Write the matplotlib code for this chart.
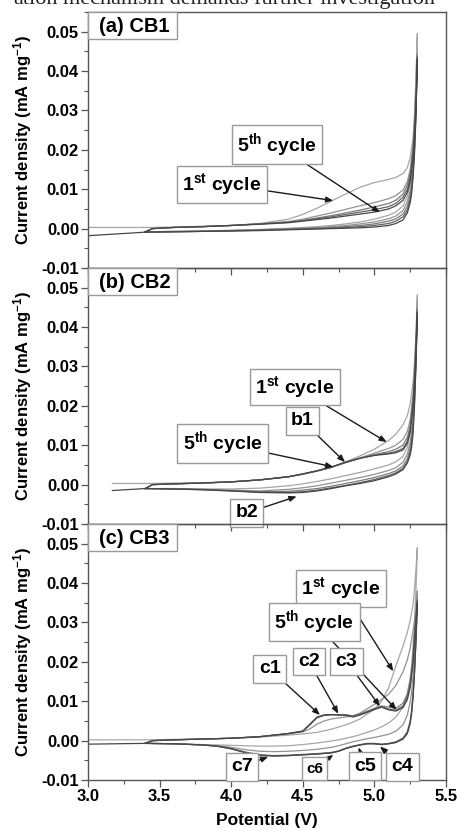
import matplotlib
matplotlib.use('Agg')
import matplotlib.pyplot as plt
from matplotlib.ticker import MultipleLocator, FormatStrFormatter
from matplotlib.patches import Rectangle

plt.rcParams['font.family'] = ['Liberation Sans', 'DejaVu Sans']
plt.rcParams['font.weight'] = 'bold'
plt.rcParams['mathtext.fontset'] = 'custom'
plt.rcParams['mathtext.rm'] = 'Liberation Sans:bold'
plt.rcParams['mathtext.bf'] = 'Liberation Sans:bold'
plt.rcParams['mathtext.it'] = 'Liberation Sans:bold'
plt.rcParams['mathtext.default'] = 'bf'

# ---------------- data (potential in V, current density in mA mg^-1) -------------
anodic_v = [3.40, 3.45, 3.60, 3.80, 4.00, 4.20, 4.40, 4.50, 4.60, 4.70, 4.80,
            4.90, 5.00, 5.10, 5.15, 5.20, 5.23, 5.25, 5.27, 5.28, 5.29, 5.30]
cathodic_v = [5.30, 5.29, 5.28, 5.27, 5.26, 5.25, 5.23, 5.20, 5.15, 5.10, 5.00,
              4.90, 4.80, 4.70, 4.60, 4.50, 4.40, 4.20, 4.00, 3.80, 3.60, 3.40]

# CB1
cb1_start_v = [3.00, 3.20]
cb1_start_i = [0.0003, 0.0003]
cb1_anodic = [
    [0.0003, 0.0003, 0.0004, 0.0006, 0.0008, 0.0013, 0.0024, 0.0036, 0.0052, 0.0070, 0.0088,
     0.0105, 0.0117, 0.0125, 0.0130, 0.0140, 0.0155, 0.0180, 0.0230, 0.0290, 0.0380, 0.0495],
    [-0.0008, 0.0000, 0.0003, 0.0005, 0.0008, 0.0012, 0.0018, 0.0024, 0.0032, 0.0040, 0.0049,
     0.0058, 0.0066, 0.0076, 0.0084, 0.0098, 0.0120, 0.0150, 0.0210, 0.0270, 0.0340, 0.0445],
    [-0.0008, 0.0000, 0.0003, 0.0005, 0.0008, 0.0012, 0.0017, 0.0021, 0.0027, 0.0033, 0.0040,
     0.0047, 0.0055, 0.0064, 0.0072, 0.0088, 0.0110, 0.0140, 0.0200, 0.0260, 0.0330, 0.0440],
    [-0.0008, 0.0000, 0.0003, 0.0005, 0.0008, 0.0012, 0.0016, 0.0020, 0.0025, 0.0030, 0.0036,
     0.0042, 0.0048, 0.0056, 0.0064, 0.0080, 0.0100, 0.0130, 0.0190, 0.0250, 0.0320, 0.0435],
    [-0.0009, 0.0000, 0.0003, 0.0005, 0.0008, 0.0011, 0.0015, 0.0019, 0.0023, 0.0027, 0.0032,
     0.0037, 0.0042, 0.0050, 0.0058, 0.0072, 0.0092, 0.0120, 0.0180, 0.0240, 0.0310, 0.0430],
]
cb1_cathodic = [
    [0.0495, 0.0360, 0.0260, 0.0190, 0.0145, 0.0115, 0.0082, 0.0058, 0.0042, 0.0034, 0.0024,
     0.0017, 0.0012, 0.0008, 0.0005, 0.0003, 0.0001, -0.0002, -0.0004, -0.0006, -0.0007, -0.0008],
    [0.0445, 0.0320, 0.0230, 0.0165, 0.0125, 0.0098, 0.0068, 0.0046, 0.0032, 0.0025, 0.0017,
     0.0012, 0.0008, 0.0005, 0.0003, 0.0001, 0.0000, -0.0003, -0.0005, -0.0006, -0.0007, -0.0008],
    [0.0440, 0.0300, 0.0210, 0.0150, 0.0110, 0.0085, 0.0056, 0.0037, 0.0025, 0.0019, 0.0012,
     0.0008, 0.0005, 0.0003, 0.0001, 0.0000, -0.0001, -0.0003, -0.0005, -0.0007, -0.0008, -0.0008],
    [0.0435, 0.0290, 0.0200, 0.0140, 0.0100, 0.0075, 0.0047, 0.0030, 0.0019, 0.0013, 0.0008,
     0.0005, 0.0003, 0.0001, 0.0000, -0.0001, -0.0002, -0.0004, -0.0006, -0.0007, -0.0008, -0.0009],
    [0.0430, 0.0280, 0.0190, 0.0130, 0.0090, 0.0066, 0.0040, 0.0022, 0.0013, 0.0008, 0.0004,
     0.0002, 0.0001, 0.0000, -0.0001, -0.0002, -0.0003, -0.0005, -0.0006, -0.0007, -0.0008, -0.0009],
]
cb1_tail_v = [3.40, 3.00, 3.00]
cb1_tail_i = [-0.0009, -0.0018, -0.0045]

# CB2
cb2_start_v = [3.17]
cb2_start_i = [0.0003]
cb2_anodic = [
    [0.0003, 0.0003, 0.0004, 0.0005, 0.0007, 0.0012, 0.0020, 0.0026, 0.0034, 0.0044, 0.0058,
     0.0073, 0.0090, 0.0112, 0.0128, 0.0152, 0.0175, 0.0205, 0.0260, 0.0310, 0.0380, 0.0482],
    [-0.0010, 0.0000, 0.0002, 0.0004, 0.0007, 0.0012, 0.0020, 0.0027, 0.0035, 0.0044, 0.0056,
     0.0068, 0.0080, 0.0092, 0.0100, 0.0115, 0.0135, 0.0165, 0.0230, 0.0290, 0.0360, 0.0455],
    [-0.0010, 0.0000, 0.0002, 0.0004, 0.0007, 0.0012, 0.0020, 0.0027, 0.0035, 0.0044, 0.0056,
     0.0067, 0.0076, 0.0084, 0.0090, 0.0100, 0.0120, 0.0150, 0.0215, 0.0275, 0.0350, 0.0445],
    [-0.0010, 0.0000, 0.0002, 0.0004, 0.0007, 0.0012, 0.0020, 0.0027, 0.0035, 0.0044, 0.0057,
     0.0067, 0.0075, 0.0080, 0.0084, 0.0092, 0.0110, 0.0140, 0.0205, 0.0265, 0.0345, 0.0440],
    [-0.0010, 0.0000, 0.0002, 0.0004, 0.0007, 0.0012, 0.0020, 0.0027, 0.0035, 0.0045, 0.0057,
     0.0067, 0.0074, 0.0078, 0.0081, 0.0088, 0.0105, 0.0135, 0.0200, 0.0260, 0.0340, 0.0436],
]
cb2_cathodic = [
    [0.0482, 0.0360, 0.0270, 0.0200, 0.0160, 0.0130, 0.0095, 0.0072, 0.0058, 0.0050, 0.0040,
     0.0031, 0.0023, 0.0015, 0.0008, 0.0002, -0.0003, -0.0009, -0.0011, -0.0011, -0.0010, -0.0010],
    [0.0455, 0.0330, 0.0240, 0.0175, 0.0135, 0.0108, 0.0078, 0.0057, 0.0043, 0.0036, 0.0026,
     0.0018, 0.0011, 0.0004, -0.0003, -0.0008, -0.0012, -0.0016, -0.0014, -0.0012, -0.0011, -0.0010],
    [0.0445, 0.0315, 0.0225, 0.0160, 0.0120, 0.0094, 0.0066, 0.0047, 0.0035, 0.0028, 0.0018,
     0.0010, 0.0003, -0.0004, -0.0010, -0.0014, -0.0017, -0.0018, -0.0015, -0.0012, -0.0011, -0.0010],
    [0.0440, 0.0305, 0.0210, 0.0145, 0.0105, 0.0082, 0.0058, 0.0041, 0.0030, 0.0023, 0.0013,
     0.0005, -0.0002, -0.0008, -0.0014, -0.0018, -0.0020, -0.0019, -0.0016, -0.0013, -0.0011, -0.0010],
    [0.0436, 0.0300, 0.0200, 0.0130, 0.0095, 0.0075, 0.0055, 0.0038, 0.0027, 0.0020, 0.0010,
     0.0003, -0.0003, -0.0010, -0.0016, -0.0020, -0.0021, -0.0020, -0.0016, -0.0013, -0.0011, -0.0010],
]
cb2_tail_v = [3.40, 3.17]
cb2_tail_i = [-0.0010, -0.0015]

# CB3
cb3_anodic_v = [3.40, 3.45, 3.60, 3.80, 4.00, 4.20, 4.40, 4.50, 4.55, 4.60, 4.65, 4.70, 4.80,
                4.85, 4.90, 5.00, 5.05, 5.10, 5.15, 5.20, 5.23, 5.25, 5.27, 5.28, 5.29, 5.30]
cb3_cathodic_v = [5.30, 5.29, 5.28, 5.27, 5.26, 5.25, 5.23, 5.20, 5.15, 5.10, 5.05, 5.00, 4.95,
                  4.90, 4.85, 4.80, 4.75, 4.70, 4.60, 4.50, 4.40, 4.30, 4.20, 4.10, 4.00, 3.90,
                  3.80, 3.60, 3.40]
cb3_start_v = [3.00, 3.20]
cb3_start_i = [0.0002, 0.0002]
cb3_anodic = [
    [0.0002, 0.0002, 0.0003, 0.0004, 0.0006, 0.0009, 0.0014, 0.0017, 0.0019, 0.0021, 0.0025, 0.0029, 0.0040,
     0.0047, 0.0055, 0.0080, 0.0100, 0.0135, 0.0190, 0.0240, 0.0275, 0.0305, 0.0345, 0.0385, 0.0435, 0.0490],
    [-0.0007, 0.0000, 0.0002, 0.0004, 0.0006, 0.0010, 0.0017, 0.0022, 0.0030, 0.0042, 0.0050, 0.0055, 0.0060,
     0.0063, 0.0070, 0.0092, 0.0105, 0.0118, 0.0140, 0.0175, 0.0205, 0.0235, 0.0280, 0.0305, 0.0335, 0.0380],
    [-0.0007, 0.0000, 0.0002, 0.0004, 0.0006, 0.0010, 0.0018, 0.0024, 0.0040, 0.0058, 0.0064, 0.0066, 0.0066,
     0.0063, 0.0068, 0.0082, 0.0088, 0.0085, 0.0082, 0.0095, 0.0118, 0.0150, 0.0215, 0.0270, 0.0320, 0.0360],
    [-0.0007, 0.0000, 0.0002, 0.0004, 0.0006, 0.0010, 0.0018, 0.0024, 0.0041, 0.0059, 0.0065, 0.0066, 0.0065,
     0.0061, 0.0066, 0.0080, 0.0086, 0.0080, 0.0077, 0.0088, 0.0110, 0.0142, 0.0205, 0.0262, 0.0310, 0.0355],
    [-0.0007, 0.0000, 0.0002, 0.0004, 0.0006, 0.0010, 0.0018, 0.0024, 0.0042, 0.0060, 0.0065, 0.0066, 0.0064,
     0.0060, 0.0065, 0.0079, 0.0085, 0.0078, 0.0075, 0.0084, 0.0104, 0.0135, 0.0198, 0.0255, 0.0302, 0.0350],
]
cb3_cathodic = [
    [0.0490, 0.0380, 0.0300, 0.0240, 0.0190, 0.0160, 0.0120, 0.0085, 0.0060, 0.0045, 0.0035, 0.0027, 0.0021,
     0.0015, 0.0010, 0.0006, 0.0002, -0.0001, -0.0006, -0.0010, -0.0013, -0.0014, -0.0014, -0.0013, -0.0012,
     -0.0011, -0.0010, -0.0008, -0.0007],
    [0.0380, 0.0290, 0.0220, 0.0165, 0.0125, 0.0098, 0.0065, 0.0040, 0.0024, 0.0016, 0.0012, 0.0008, 0.0005,
     0.0001, -0.0003, -0.0008, -0.0013, -0.0017, -0.0022, -0.0025, -0.0027, -0.0028, -0.0027, -0.0023, -0.0017,
     -0.0013, -0.0011, -0.0008, -0.0007],
    [0.0360, 0.0260, 0.0180, 0.0120, 0.0078, 0.0050, 0.0023, 0.0007, -0.0003, -0.0007, -0.0009, -0.0007, -0.0007,
     -0.0010, -0.0014, -0.0019, -0.0026, -0.0030, -0.0033, -0.0035, -0.0037, -0.0038, -0.0036, -0.0029, -0.0020,
     -0.0014, -0.0011, -0.0008, -0.0007],
    [0.0355, 0.0255, 0.0175, 0.0115, 0.0073, 0.0046, 0.0020, 0.0005, -0.0004, -0.0008, -0.0010, -0.0008, -0.0008,
     -0.0011, -0.0015, -0.0020, -0.0027, -0.0031, -0.0034, -0.0036, -0.0038, -0.0039, -0.0037, -0.0030, -0.0020,
     -0.0014, -0.0011, -0.0008, -0.0007],
    [0.0350, 0.0250, 0.0170, 0.0110, 0.0070, 0.0044, 0.0018, 0.0004, -0.0005, -0.0008, -0.0010, -0.0008, -0.0008,
     -0.0011, -0.0015, -0.0020, -0.0027, -0.0031, -0.0034, -0.0036, -0.0038, -0.0039, -0.0037, -0.0031, -0.0021,
     -0.0014, -0.0011, -0.0008, -0.0007],
]
cb3_tail_v = [3.40, 3.00]
cb3_tail_i = [-0.0007, -0.0009]

panel_titles = ['(a) CB1', '(b) CB2', '(c) CB3']
y_ticks = [-0.01, 0.00, 0.01, 0.02, 0.03, 0.04, 0.05]
x_ticks = [3.0, 3.5, 4.0, 4.5, 5.0, 5.5]
cycle_colors = ['#a6a6a6', '#939393', '#7c7c7c', '#626262', '#474747']

# annotations: (text, tip_V, tip_I, text_V, text_I, fontsize)
ann_cb1 = [
    ('5$^{th}$ cycle', 5.039, 0.0041, 4.32, 0.0213, 14),
    ('1$^{st}$ cycle', 4.713, 0.0071, 3.936, 0.0113, 14),
]
ann_cb2 = [
    ('1$^{st}$ cycle', 5.086, 0.0108, 4.446, 0.0248, 14),
    ('b1', 4.795, 0.0057, 4.498, 0.0162, 14),
    ('5$^{th}$ cycle', 4.713, 0.0045, 3.939, 0.0105, 14),
    ('b2', 4.457, -0.0030, 4.108, -0.0072, 14),
]
ann_cb3 = [
    ('1$^{st}$ cycle', 5.132, 0.0176, 4.764, 0.0387, 14),
    ('5$^{th}$ cycle', 5.155, 0.0078, 4.581, 0.0301, 14),
    ('c1', 4.620, 0.0065, 4.269, 0.0182, 14),
    ('c2', 4.748, 0.0068, 4.542, 0.0201, 14),
    ('c3', 5.039, 0.0087, 4.806, 0.0201, 14),
    ('c7', 4.259, -0.0041, 4.075, -0.0066, 14),
    ('c6', 4.713, -0.0036, 4.583, -0.0071, 11),
    ('c5', 4.890, -0.0017, 4.934, -0.0065, 14),
    ('c4', 5.039, -0.0015, 5.194, -0.0066, 14),
]

panels = [
    (cb1_start_v, cb1_start_i, anodic_v, cb1_anodic, cathodic_v, cb1_cathodic, cb1_tail_v, cb1_tail_i, ann_cb1),
    (cb2_start_v, cb2_start_i, anodic_v, cb2_anodic, cathodic_v, cb2_cathodic, cb2_tail_v, cb2_tail_i, ann_cb2),
    (cb3_start_v, cb3_start_i, cb3_anodic_v, cb3_anodic, cb3_cathodic_v, cb3_cathodic, cb3_tail_v, cb3_tail_i, ann_cb3),
]

# ---------------- figure ----------------
W, H = 457, 831
fig = plt.figure(figsize=(W / 100, H / 100), dpi=100)
fig.patch.set_facecolor('white')

# fragment of the document text above the figure (cut off at the top edge, as in the source)
fig.text(63 / W, 1 - 4.0 / H, 'mechanism demands further investigation', ha='left', va='baseline',
         family='Liberation Serif', fontweight='normal', fontsize=16, color='#222222')
fig.text(58 / W, 1 - 4.0 / H, 'ation', ha='right', va='baseline',
         family='Liberation Serif', fontweight='normal', fontsize=16, color='#222222')

left, width = 88 / W, 358 / W
tops = [12, 268, 524]
ph = 256
spine_col = '#555555'

for k, (sv, si, av, aset, cv, cset, tv, ti, anns) in enumerate(panels):
    ax = fig.add_axes([left, 1 - (tops[k] + ph) / H, width, ph / H])
    ax.patch.set_visible(False)
    ax.set_xlim(3.0, 5.5)
    ax.set_ylim(-0.01, 0.055)

    for c in range(5):
        xs = list(av) + list(cv)
        ys = list(aset[c]) + list(cset[c])
        if c == 0:
            xs = list(sv) + xs
            ys = list(si) + ys
        if c == 4:
            xs = xs + list(tv)
            ys = ys + list(ti)
        ax.plot(xs, ys, color=cycle_colors[c], lw=0.9, zorder=2 + c * 0.1)

    ax.set_yticks(y_ticks)
    ax.yaxis.set_major_formatter(FormatStrFormatter('%.2f'))
    ax.yaxis.set_minor_locator(MultipleLocator(0.005))
    ax.set_xticks(x_ticks)
    ax.xaxis.set_minor_locator(MultipleLocator(0.25))
    ax.xaxis.set_major_formatter(FormatStrFormatter('%.1f'))
    ax.tick_params(which='major', direction='out', length=5, width=0.9, color=spine_col,
                   labelsize=12, pad=1.5)
    ax.tick_params(which='minor', direction='out', length=3, width=0.8, color=spine_col)
    ax.tick_params(top=False, right=False, which='both')
    if k < 2:
        ax.tick_params(axis='x', labelbottom=False)
    for s in ax.spines.values():
        s.set_color(spine_col)
        s.set_linewidth(1.0)

    ax.set_ylabel('Current density (mA mg$^{-1}$)', fontsize=12, fontweight='bold')
    ax.yaxis.set_label_coords(-0.15, 0.5)

    # panel title box
    ax.add_patch(Rectangle((0, 1 - 27 / ph), 89 / 358, 27 / ph, transform=ax.transAxes,
                           facecolor='white', edgecolor='#999999', lw=1.0, zorder=5, clip_on=False))
    ax.text(11 / 358, 1 - 14 / ph, panel_titles[k], transform=ax.transAxes, ha='left', va='center',
            fontsize=14.5, fontweight='bold', zorder=6)

    for (txt, tx, ty, lx, ly, fs) in anns:
        ax.annotate(txt, xy=(tx, ty), xytext=(lx, ly), ha='center', va='center',
                    fontsize=fs, fontweight='bold', zorder=8,
                    bbox=dict(boxstyle='square,pad=0.28', fc='white', ec='#999999', lw=1.0),
                    arrowprops=dict(arrowstyle='-|>,head_length=0.3,head_width=0.12',
                                    color='#1a1a1a', lw=1.0, shrinkA=0, shrinkB=0))

    if k == 2:
        ax.set_xlabel('Potential (V)', fontsize=12.5, fontweight='bold')
        ax.xaxis.set_label_coords(0.5, -0.13)

fig.savefig('out.png', dpi=100, facecolor='white')
